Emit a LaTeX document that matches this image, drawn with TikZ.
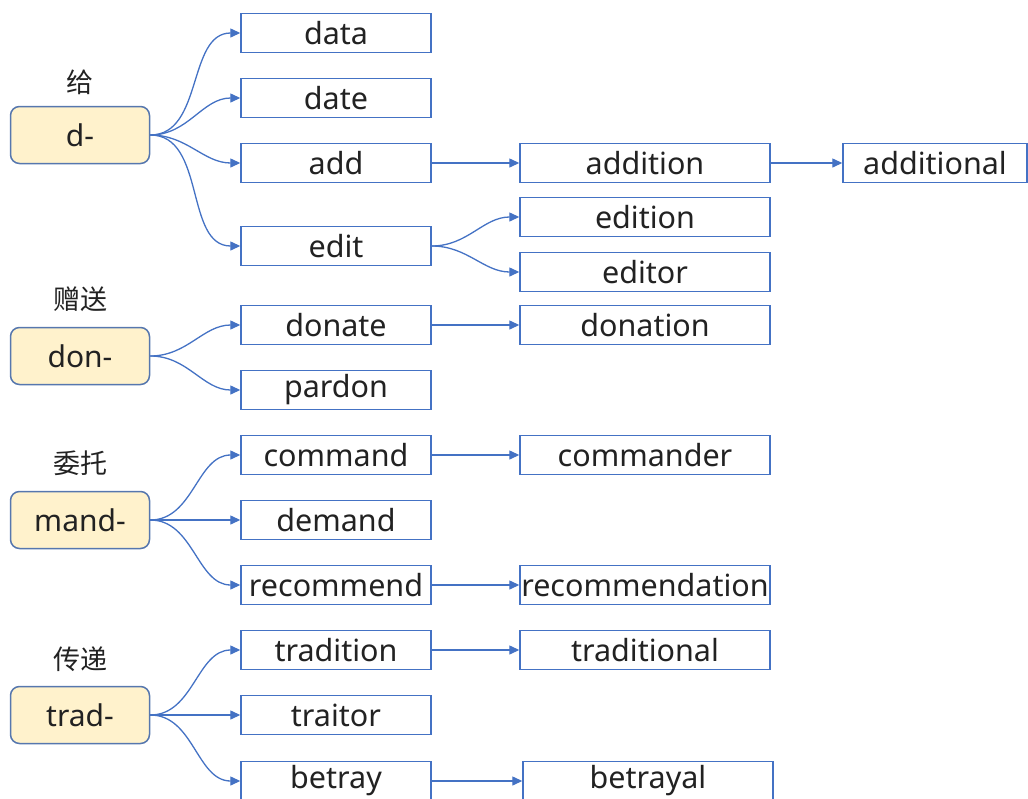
\documentclass[tikz,border=0pt]{standalone}
\usepackage{fontspec}
\setmainfont{Noto Sans}
\newfontfamily\cjk{Noto Sans CJK SC}
\usetikzlibrary{arrows.meta}
\definecolor{edgeblue}{HTML}{4472C4}
\definecolor{rootfill}{HTML}{FFF2CC}
\definecolor{rootline}{HTML}{5677AE}
\definecolor{txt}{HTML}{222222}
\tikzset{
  word/.style={draw=edgeblue, line width=1.4pt, fill=white, minimum width=190pt, minimum height=39pt, inner sep=0pt, text=txt, font=\fontsize{30.5}{32}\selectfont},
  wide/.style={word, minimum width=250pt},
  root/.style={draw=rootline, line width=1.5pt, fill=rootfill, rounded corners=9pt, minimum width=139pt, minimum height=57pt, inner sep=0pt, text=txt, font=\fontsize{30}{32}\selectfont},
  gloss/.style={text=txt, font=\cjk\fontsize{27}{29}\selectfont, inner sep=0pt},
  link/.style={draw=edgeblue, line width=1.3pt, -{Triangle[length=10pt,width=9pt]}},
}
\begin{document}
\begin{tikzpicture}[x=1pt,y=-1pt]
\useasboundingbox (0,0) rectangle (1028,798);
% roots
\node[root] (d) at (80,135) {d-};
\node[gloss] (gd) at (80,82) {给};
\node[root] (don) at (80,356) {don-};
\node[gloss] (gdon) at (80,299) {赠送};
\node[root] (mand) at (80,520) {mand-};
\node[gloss] (gmand) at (80,463) {委托};
\node[root] (trad) at (80,715) {trad-};
\node[gloss] (gtrad) at (80,659) {传递};
% column 2
\node[word] (data) at (336,33) {data};
\node[word] (date) at (336,98) {date};
\node[word] (add) at (336,163) {add};
\node[word] (edit) at (336,246) {edit};
\node[word] (donate) at (336,325) {donate};
\node[word] (pardon) at (336,390) {pardon};
\node[word] (command) at (336,455) {command};
\node[word] (demand) at (336,520) {demand};
\node[word] (recommend) at (336,585) {recommend};
\node[word] (tradition) at (336,650) {tradition};
\node[word] (traitor) at (336,715) {traitor};
\node[word] (betray) at (336,781) {betray};
% column 3
\node[wide] (addition) at (645,163) {addition};
\node[wide] (edition) at (645,217) {edition};
\node[wide] (editor) at (645,272) {editor};
\node[wide] (donation) at (645,325) {donation};
\node[wide] (commander) at (645,455) {commander};
\node[wide] (recommendation) at (645,585) {recommendation};
\node[wide] (traditional) at (645,650) {traditional};
\node[wide] (betrayal) at (648,781) {betrayal};
% column 4
\node[word, minimum width=184pt] (additional) at (935,163) {additional};
% links
\foreach \t in {data,date,add,edit} \draw[link] (d.east) to[out=0,in=180] (\t.west);
\foreach \t in {donate,pardon} \draw[link] (don.east) to[out=0,in=180] (\t.west);
\foreach \t in {command,recommend} \draw[link] (mand.east) to[out=0,in=180] (\t.west);
\draw[link] (mand.east) -- (demand.west);
\foreach \t in {tradition,betray} \draw[link] (trad.east) to[out=0,in=180] (\t.west);
\draw[link] (trad.east) -- (traitor.west);
\draw[link] (add.east) -- (addition.west);
\draw[link] (addition.east) -- (additional.west);
\draw[link] (edit.east) to[out=0,in=180] (edition.west);
\draw[link] (edit.east) to[out=0,in=180] (editor.west);
\draw[link] (donate.east) -- (donation.west);
\draw[link] (command.east) -- (commander.west);
\draw[link] (recommend.east) -- (recommendation.west);
\draw[link] (tradition.east) -- (traditional.west);
\draw[link] (betray.east) -- (betrayal.west);
\end{tikzpicture}
\end{document}
